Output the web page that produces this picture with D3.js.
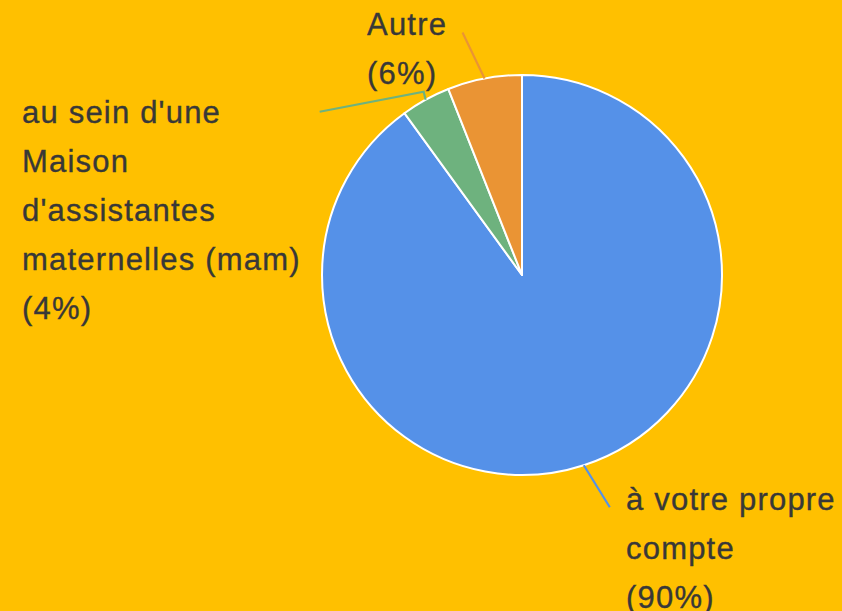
<!DOCTYPE html>
<html>
<head>
<meta charset="utf-8">
<script src="https://cdn.jsdelivr.net/npm/d3@7"></script>
<style>
  html, body { margin: 0; padding: 0; background: #FFC000; }
  svg { display: block; }
</style>
</head>
<body>
<svg id="chart" width="842" height="611"></svg>
<script>
// Répartition des modes d'exercice
const categories = [
  "à votre propre compte",
  "au sein d'une Maison d'assistantes maternelles (mam)",
  "Autre"
];
const values = [90, 4, 6];
const percentLabels = ["90%", "4%", "6%"];
const colors = ["#5591E8", "#6EB27E", "#EA9434"];

// Label text broken into the lines drawn next to each slice
const labelLines = [
  ["à votre propre", "compte", "(90%)"],
  ["au sein d'une", "Maison", "d'assistantes", "maternelles (mam)", "(4%)"],
  ["Autre", "(6%)"]
];

// Layout of each callout: leader end points (relative to the slice's rim point) and text origin
const callouts = [
  { path: [[26, 42]], textX: 626, textY: 510 },
  { path: [[-2, -8], [-104, 20]], textX: 22, textY: 123 },
  { path: [[-22, -46]], textX: 367, textY: 35 }
];

const width = 842, height = 611;
const cx = 522, cy = 275, radius = 200;
const lineHeight = 49;

const svg = d3.select("#chart");
svg.append("rect").attr("width", width).attr("height", height).attr("fill", "#FFC000");

const pie = d3.pie().sort(null).value(d => d);
const arcs = pie(values);
const arc = d3.arc().innerRadius(0).outerRadius(radius);

const g = svg.append("g").attr("transform", `translate(${cx},${cy})`);

g.selectAll("path.slice")
  .data(arcs)
  .join("path")
  .attr("class", "slice")
  .attr("d", arc)
  .attr("fill", (d, i) => colors[i])
  .attr("stroke", "#ffffff")
  .attr("stroke-width", 2)
  .attr("stroke-linejoin", "round");

// Leader lines from the middle of each slice's rim
arcs.forEach((a, i) => {
  const mid = (a.startAngle + a.endAngle) / 2;
  const px = Math.sin(mid) * radius;
  const py = -Math.cos(mid) * radius;
  const pts = [[px, py]];
  let x = px, y = py;
  callouts[i].path.forEach(([dx, dy]) => { x += dx; y += dy; pts.push([x, y]); });
  g.append("path")
    .attr("d", d3.line()(pts))
    .attr("fill", "none")
    .attr("stroke", colors[i])
    .attr("stroke-width", 2.2);
});

// Category labels
labelLines.forEach((lines, i) => {
  const t = svg.append("text")
    .attr("x", callouts[i].textX)
    .attr("y", callouts[i].textY)
    .attr("fill", "#383838")
    .attr("stroke", "#383838")
    .attr("stroke-width", 0.35)
    .attr("font-family", "'Liberation Sans', Arial, sans-serif")
    .attr("font-size", 31)
    .attr("letter-spacing", 1.2);
  lines.forEach((line, j) => {
    t.append("tspan")
      .attr("x", callouts[i].textX)
      .attr("dy", j === 0 ? 0 : lineHeight)
      .text(line);
  });
});
</script>
</body>
</html>
